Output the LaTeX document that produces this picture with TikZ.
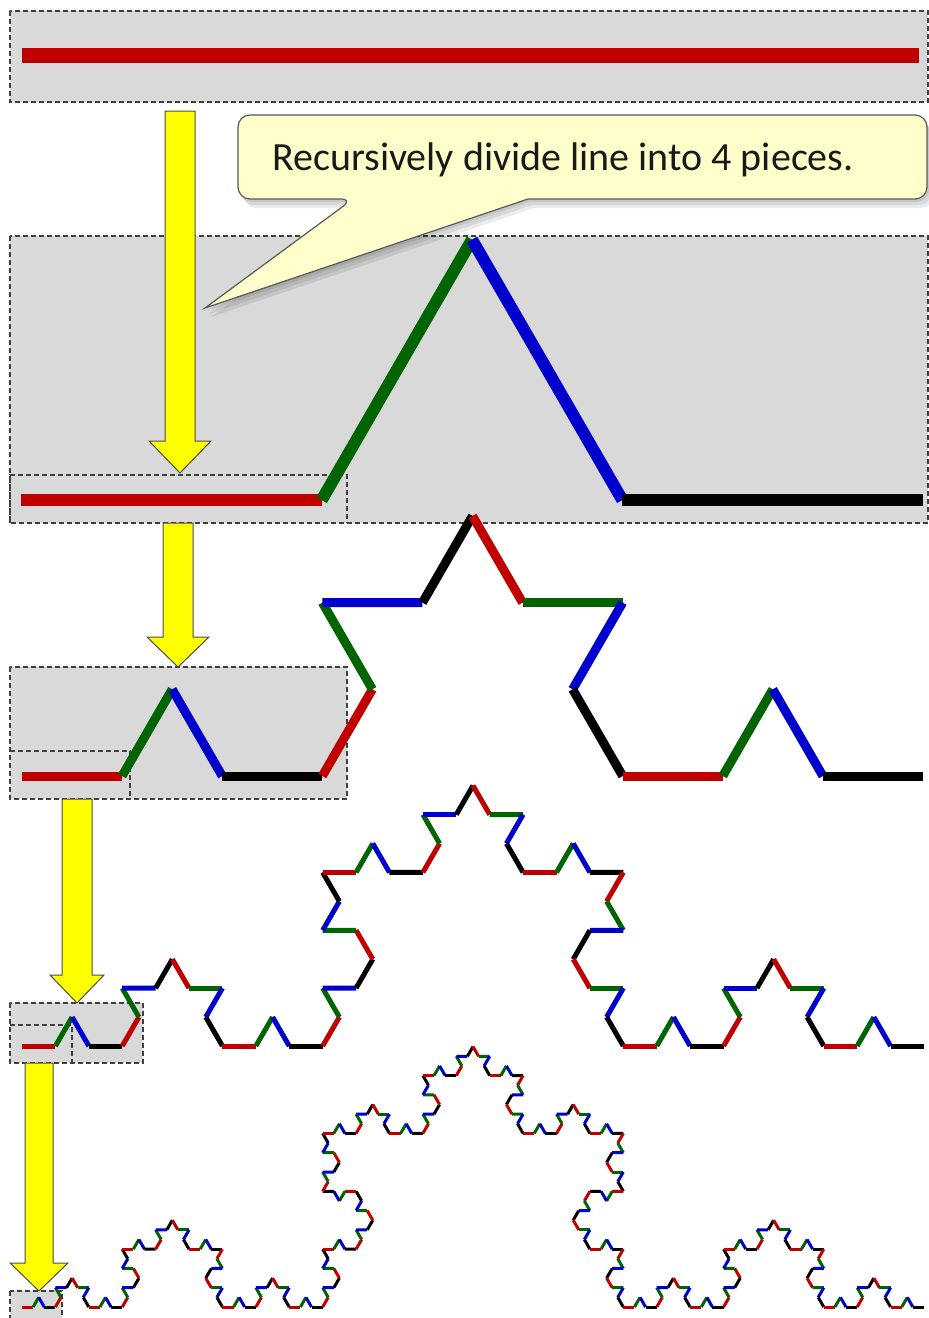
\documentclass[tikz,border=0pt]{standalone}
\usepackage{fontspec}
\setmainfont{Carlito}
\definecolor{kred}{RGB}{192,0,0}
\definecolor{kgreen}{RGB}{0,100,0}
\definecolor{kblue}{RGB}{0,0,204}
\definecolor{kblack}{RGB}{0,0,0}
\definecolor{boxgray}{RGB}{217,217,217}
\definecolor{calloutfill}{RGB}{255,255,204}
\definecolor{arrowyellow}{RGB}{255,255,0}
\tikzset{
  zoombox/.style={fill=boxgray, draw=black!75, line width=1.1pt, dash pattern=on 5pt off 3pt},
  zoomframe/.style={draw=black!75, line width=1.1pt, dash pattern=on 5pt off 3pt},
  yarrowstyle/.style={fill=arrowyellow, draw=black!70, line width=1pt, line join=miter},
  kline/.style={line cap=butt},
  calloutstyle/.style={fill=calloutfill, draw=black!65, line width=1.2pt},
  calloutshadow/.style={fill=black, opacity=0.08},
}
% recursive Koch segment: #1 depth, (#2,#3) -> (#4,#5), #6 colour at depth 0
\newcommand\kochseg[6]{%
  \ifnum#1=0
    \draw[kline,#6] (#2,#3) -- (#4,#5);%
  \else
    \begingroup
    \pgfmathsetmacro\kdx{(#4-#2)/3}%
    \pgfmathsetmacro\kdy{(#5-#3)/3}%
    \pgfmathsetmacro\kax{#2+\kdx}%
    \pgfmathsetmacro\kay{#3+\kdy}%
    \pgfmathsetmacro\kbx{#2+2*\kdx}%
    \pgfmathsetmacro\kby{#3+2*\kdy}%
    \pgfmathsetmacro\kpx{\kax+0.5*\kdx+0.8660254*\kdy}%
    \pgfmathsetmacro\kpy{\kay-0.8660254*\kdx+0.5*\kdy}%
    \pgfmathtruncatemacro\kochlev{#1-1}%
    \edef\kochnext{%
      \noexpand\kochseg{\kochlev}{#2}{#3}{\kax}{\kay}{kred}%
      \noexpand\kochseg{\kochlev}{\kax}{\kay}{\kpx}{\kpy}{kgreen}%
      \noexpand\kochseg{\kochlev}{\kpx}{\kpy}{\kbx}{\kby}{kblue}%
      \noexpand\kochseg{\kochlev}{\kbx}{\kby}{#4}{#5}{kblack}}%
    \kochnext
    \endgroup
  \fi}
% yellow block arrow: #1 centre x, #2 top, #3 head base, #4 tip, #5 shaft half width, #6 head half width
\newcommand\yarrow[6]{%
  \draw[yarrowstyle] (#1-#5,#2) -- (#1+#5,#2) -- (#1+#5,#3) -- (#1+#6,#3) -- (#1,#4)
    -- (#1-#6,#3) -- (#1-#5,#3) -- cycle;}
\newcommand\calloutpath{(353,199) -- (205,308) -- (528,199) [rounded corners=12pt] -- (927,199) -- (927,115) -- (238,115) -- (238,199) -- cycle}
\begin{document}
\begin{tikzpicture}[x=1pt,y=-1pt]
\clip (0,0) rectangle (929,1318);
\fill[white] (0,0) rectangle (929,1318);

% zoom boxes
\draw[zoombox] (10,11) rectangle (928,102);
\draw[zoombox] (10,236) rectangle (928,523);
\draw[zoomframe] (10,523) -- (10,475) -- (347,475) -- (347,523);
\draw[zoombox] (10,667) rectangle (347,799);
\draw[zoomframe] (10,751) -- (130,751) -- (130,799);
\draw[zoombox] (10,1003) rectangle (143,1063);
\draw[zoomframe] (10,1025) -- (72,1025) -- (72,1063);
\draw[zoombox] (10,1291) rectangle (62,1325);

% arrows
\yarrow{180}{111}{441}{473}{15}{31}
\yarrow{178}{523}{637}{667}{15}{31}
\yarrow{77}{799}{975}{1003}{15}{27}
\yarrow{39}{1063}{1263}{1291}{14}{29}

% Koch curves
\begin{scope}[line width=15pt]
  \kochseg{0}{22}{55}{919}{55}{kred}
\end{scope}
\begin{scope}[line width=12pt]
  \kochseg{1}{21}{500}{923}{500}{kred}
\end{scope}
\begin{scope}[line width=9pt]
  \kochseg{2}{22}{776}{923}{776}{kred}
\end{scope}
\begin{scope}[line width=5pt]
  \kochseg{3}{22}{1046}{924}{1046}{kred}
\end{scope}
\begin{scope}[line width=3pt]
  \kochseg{4}{22}{1307}{924}{1307}{kred}
\end{scope}

% callout
\fill[calloutshadow,shift={(2,3)}] \calloutpath;
\fill[calloutshadow,shift={(4,6)}] \calloutpath;
\fill[calloutshadow,shift={(6,9)}] \calloutpath;
\draw[calloutstyle] \calloutpath;
\node[anchor=base west, font=\fontsize{40}{48}\selectfont, text=black!90, inner sep=0pt]
  (calltext) at (272,170) {Recursively divide line into 4 pieces.};
\end{tikzpicture}
\end{document}
